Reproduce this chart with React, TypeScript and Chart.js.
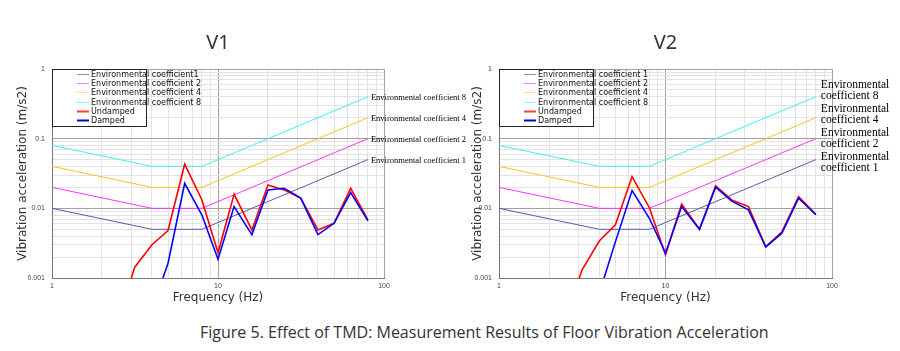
import React, { useEffect, useRef } from 'react';
import { Chart, registerables } from 'chart.js';

Chart.register(...registerables);

// ---------- data ----------
const envFreqs = [1, 4, 8, 80];
const envCoef1 = [0.01, 0.005, 0.005, 0.05];
const envCoef2 = [0.02, 0.01, 0.01, 0.1];
const envCoef4 = [0.04, 0.02, 0.02, 0.2];
const envCoef8 = [0.08, 0.04, 0.04, 0.4];

const v1UndampedFreqs = [2.5, 3.15, 4, 5, 6.3, 8, 10, 12.5, 16, 20, 25, 31.5, 40, 50, 63, 80];
const v1Undamped = [0.00025, 0.00143, 0.003, 0.0048, 0.043, 0.0132, 0.0023, 0.0159, 0.0049, 0.0217, 0.0184, 0.014, 0.0049, 0.0061, 0.0194, 0.0068];
const v1DampedFreqs = [4, 5, 6.3, 8, 10, 12.5, 16, 20, 25, 31.5, 40, 50, 63, 80];
const v1Damped = [0.00035, 0.00163, 0.0229, 0.008, 0.00186, 0.0106, 0.0042, 0.0184, 0.0194, 0.014, 0.0042, 0.0061, 0.0168, 0.0066];

const v2UndampedFreqs = [2.5, 3.15, 4, 5, 6.3, 8, 10, 12.5, 16, 20, 25, 31.5, 40, 50, 63, 80];
const v2Undamped = [0.00026, 0.0013, 0.0034, 0.0058, 0.0285, 0.0102, 0.00215, 0.0115, 0.005, 0.021, 0.0132, 0.0106, 0.0028, 0.0046, 0.0147, 0.0082];
const v2DampedFreqs = [4, 5, 6.3, 8, 10, 12.5, 16, 20, 25, 31.5, 40, 50, 63, 80];
const v2Damped = [0.0006, 0.0033, 0.018, 0.0072, 0.00227, 0.0106, 0.005, 0.0201, 0.0127, 0.0095, 0.0028, 0.0044, 0.014, 0.0081];

const xTickLabels = ['1', '10', '100'];
const yTickLabels = ['0.001', '0.01', '0.1', '1'];

const v1LegendLabels = ['Environmental coefficient1', 'Environmental coefficient 2', 'Environmental coefficient 4', 'Environmental coefficient 8', 'Undamped', 'Damped'];
const v2LegendLabels = ['Environmental coefficient 1', 'Environmental coefficient 2', 'Environmental coefficient 4', 'Environmental coefficient 8', 'Undamped', 'Damped'];
const envEndLabels = ['Environmental coefficient 1', 'Environmental coefficient 2', 'Environmental coefficient 4', 'Environmental coefficient 8'];
const envEndLabelLine1 = 'Environmental';
const envEndLabelLine2 = ['coefficient 1', 'coefficient 2', 'coefficient 4', 'coefficient 8'];

const captionText = 'Figure 5. Effect of TMD: Measurement Results of Floor Vibration Acceleration';
const xTitle = 'Frequency (Hz)';
const yTitle = 'Vibration acceleration (m/s2)';

// ---------- styles ----------
const envColors = ['#5a5aa8', '#ff33ff', '#f7c51c', '#3ef0f0'];
const envLegendColors = ['#8c8ccc', '#ff77ff', '#ffe08a', '#88ffff'];
const undampedColor = '#ff0000';
const dampedColor = '#0000ff';
const undampedLegendColor = '#ff3b3b';
const dampedLegendColor = '#0000dd';

const CANVAS_H = 310;
const PLOT_TOP = 69;
const PLOT_BOTTOM = 278;

function isDecade(v: number) {
  const l = Math.log10(v);
  return Math.abs(l - Math.round(l)) < 1e-9;
}

function logTicks(minExp: number, maxExp: number) {
  const out: number[] = [];
  for (let e = minExp; e < maxExp; e++) {
    for (let s = 1; s <= 9; s++) out.push(parseFloat((s * Math.pow(10, e)).toPrecision(6)));
  }
  out.push(Math.pow(10, maxExp));
  return out;
}

function pts(xs: number[], ys: number[]) {
  return xs.map((x, i) => ({ x, y: ys[i] }));
}

type Spec = {
  title: string;
  legendLabels: string[];
  undamped: { x: number; y: number }[];
  damped: { x: number; y: number }[];
  canvasWidth: number;
  plotLeft: number;
  plotRight: number;
  yTitleCenter: number;
  labelStyle: 'single' | 'double';
};

function makeChart(canvas: HTMLCanvasElement, spec: Spec) {
  const envSeries = [envCoef1, envCoef2, envCoef4, envCoef8];

  const titlePlugin = {
    id: 'panelTitle',
    afterDraw(chart: any) {
      const { ctx, chartArea } = chart;
      ctx.save();
      ctx.font = '20px "Noto Sans"';
      ctx.fillStyle = '#333';
      ctx.textAlign = 'center';
      ctx.textBaseline = 'middle';
      ctx.fillText(spec.title, (chartArea.left + chartArea.right) / 2, 43);
      ctx.restore();
    },
  };

  const endLabelPlugin = {
    id: 'endLabels',
    beforeDatasetsDraw(chart: any) {
      const { ctx } = chart;
      const xs = chart.scales.x;
      const ys = chart.scales.y;
      ctx.save();
      ctx.fillStyle = '#000';
      ctx.textAlign = 'left';
      ctx.textBaseline = 'middle';
      const lastF = envFreqs[envFreqs.length - 1];
      if (spec.labelStyle === 'single') {
        ctx.font = '8.5px "Liberation Serif"';
        envSeries.forEach((s, i) => {
          const x = xs.getPixelForValue(lastF) + 3;
          const y = ys.getPixelForValue(s[s.length - 1]) + 1.5;
          ctx.fillText(envEndLabels[i], x, y);
        });
      } else {
        ctx.font = '11.5px "Liberation Serif"';
        const topY = ys.getPixelForValue(envCoef8[envCoef8.length - 1]) - 12;
        for (let k = 0; k < 4; k++) {
          const idx = 3 - k;
          const x = xs.getPixelForValue(lastF) + 5;
          const y = topY + 24 * k;
          ctx.fillText(envEndLabelLine1, x, y);
          ctx.fillText(envEndLabelLine2[idx], x, y + 11.5);
        }
      }
      ctx.restore();
    },
  };

  const legendPlugin = {
    id: 'boxLegend',
    afterDatasetsDraw(chart: any) {
      const { ctx, chartArea } = chart;
      const left = chartArea.left;
      const top = chartArea.top;
      ctx.save();
      ctx.fillStyle = '#fff';
      ctx.fillRect(left, top, 94, 57);
      ctx.strokeStyle = '#222';
      ctx.lineWidth = 1;
      ctx.strokeRect(left + 0.5, top + 0.5, 94, 57);
      const colors = [...envLegendColors, undampedLegendColor, dampedLegendColor];
      ctx.font = '8px "DejaVu Sans"';
      ctx.textAlign = 'left';
      ctx.textBaseline = 'middle';
      spec.legendLabels.forEach((lab, i) => {
        const y = Math.round(top + 5 + 9.2 * i) + 0.5;
        ctx.strokeStyle = colors[i];
        ctx.lineWidth = i >= 4 ? 2 : 1;
        ctx.beginPath();
        ctx.moveTo(left + 25, y);
        ctx.lineTo(left + 37, y);
        ctx.stroke();
        ctx.fillStyle = '#111';
        ctx.fillText(lab, left + 39, y);
      });
      ctx.restore();
    },
  };

  const datasets: any[] = envSeries.map((s, i) => ({
    label: envEndLabels[i],
    data: pts(envFreqs, s),
    borderColor: envColors[i],
    borderWidth: 1,
    pointRadius: 0,
    tension: 0,
    order: 2,
  }));
  datasets.push({
    label: 'Undamped',
    data: spec.undamped,
    borderColor: undampedColor,
    borderWidth: 1.6,
    pointRadius: 0,
    tension: 0,
    order: 1,
  });
  datasets.push({
    label: 'Damped',
    data: spec.damped,
    borderColor: dampedColor,
    borderWidth: 1.6,
    pointRadius: 0,
    tension: 0,
    order: 0,
  });

  const gridColor = (ctx: any) => (ctx.tick && isDecade(ctx.tick.value) ? '#a2a2a2' : '#e3e3e3');

  return new Chart(canvas, {
    type: 'line',
    data: { datasets },
    plugins: [titlePlugin, endLabelPlugin, legendPlugin],
    options: {
      responsive: false,
      animation: false,
      devicePixelRatio: 1,
      layout: { padding: { left: 0, right: spec.canvasWidth - spec.plotRight, top: PLOT_TOP, bottom: 0 } },
      plugins: { legend: { display: false }, title: { display: false }, tooltip: { enabled: false } },
      scales: {
        x: {
          type: 'logarithmic',
          min: 1,
          max: 100,
          afterBuildTicks: (scale: any) => {
            scale.ticks = logTicks(0, 2).map((v) => ({ value: v }));
          },
          afterFit: (scale: any) => {
            scale.height = CANVAS_H - PLOT_BOTTOM;
          },
          grid: { color: gridColor, lineWidth: 1, drawTicks: false },
          border: { display: true, color: '#777', width: 1 },
          ticks: {
            autoSkip: false,
            maxRotation: 0,
            padding: 4,
            color: '#444',
            font: { size: 7, family: '"Liberation Sans"' },
            callback: (v: any) => {
              const n = Number(v);
              if (!isDecade(n)) return '';
              return xTickLabels[Math.round(Math.log10(n))];
            },
          },
          title: {
            display: true,
            text: xTitle,
            color: '#333',
            font: { size: 12, family: '"DejaVu Sans"' },
            padding: { top: 0, bottom: 5 },
          },
        },
        y: {
          type: 'logarithmic',
          min: 0.001,
          max: 1,
          afterBuildTicks: (scale: any) => {
            scale.ticks = logTicks(-3, 0).map((v) => ({ value: v }));
          },
          afterFit: (scale: any) => {
            scale.width = spec.plotLeft;
          },
          grid: { color: gridColor, lineWidth: 1, drawTicks: false },
          border: { display: true, color: '#777', width: 1 },
          ticks: {
            autoSkip: false,
            padding: 7,
            color: '#444',
            font: { size: 7, family: '"Liberation Sans"' },
            callback: (v: any) => {
              const n = Number(v);
              if (!isDecade(n)) return '';
              return yTickLabels[Math.round(Math.log10(n)) + 3];
            },
          },
          title: {
            display: true,
            text: yTitle,
            color: '#333',
            font: { size: 12, family: '"DejaVu Sans"' },
            padding: { top: spec.yTitleCenter - 7.2, bottom: 0 },
          },
        },
      },
    } as any,
  });
}

function Panel({ spec, left }: { spec: Spec; left: number }) {
  const ref = useRef<HTMLCanvasElement | null>(null);
  useEffect(() => {
    if (!ref.current) return;
    const chart = makeChart(ref.current, spec);
    return () => chart.destroy();
  }, []);
  return (
    <canvas
      ref={ref}
      width={spec.canvasWidth}
      height={CANVAS_H}
      style={{ position: 'absolute', left, top: 0, width: spec.canvasWidth, height: CANVAS_H }}
    />
  );
}

const v1Spec: Spec = {
  title: 'V1',
  legendLabels: v1LegendLabels,
  undamped: pts(v1UndampedFreqs, v1Undamped),
  damped: pts(v1DampedFreqs, v1Damped),
  canvasWidth: 490,
  plotLeft: 52,
  plotRight: 384,
  yTitleCenter: 23,
  labelStyle: 'single',
};

const v2Spec: Spec = {
  title: 'V2',
  legendLabels: v2LegendLabels,
  undamped: pts(v2UndampedFreqs, v2Undamped),
  damped: pts(v2DampedFreqs, v2Damped),
  canvasWidth: 450,
  plotLeft: 49,
  plotRight: 382,
  yTitleCenter: 28,
  labelStyle: 'double',
};

export default function App() {
  return (
    <div style={{ position: 'absolute', left: 0, top: 0, width: 900, height: 351, background: '#fff', overflow: 'hidden' }}>
      <Panel spec={v1Spec} left={0} />
      <Panel spec={v2Spec} left={450} />
      <div
        style={{
          position: 'absolute',
          left: 200,
          top: 321,
          width: 640,
          fontFamily: '"Open Sans"',
          fontSize: 16,
          lineHeight: '22px',
          color: '#333',
          whiteSpace: 'nowrap',
        }}
      >
        {captionText}
      </div>
    </div>
  );
}
